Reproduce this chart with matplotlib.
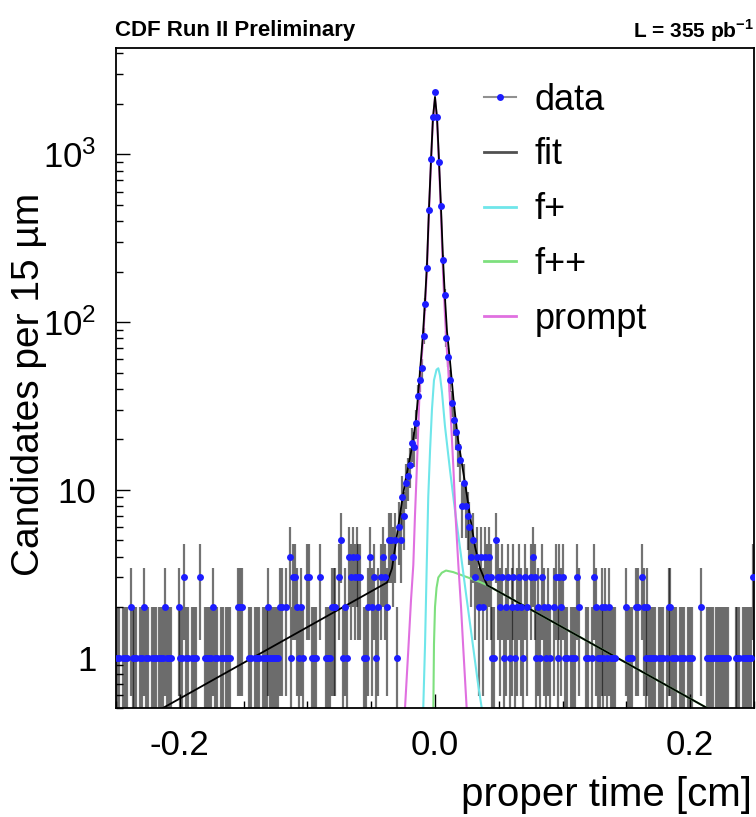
import numpy as np
import matplotlib.pyplot as plt
from matplotlib.lines import Line2D
from matplotlib.ticker import FixedLocator, FixedFormatter, NullFormatter

plt.rcParams['font.family'] = ['Liberation Sans', 'DejaVu Sans']
plt.rcParams['mathtext.fontset'] = 'custom'
plt.rcParams['mathtext.rm'] = 'Liberation Sans'
plt.rcParams['mathtext.bf'] = 'Liberation Sans:bold'

# histogram: 15 um bins, bin k centred at k*0.0015 cm, k = -166..166
bin_width = 0.0015
counts = [
    1, 1, 0, 1, 1, 1, 0, 2, 1, 1,
    1, 0, 1, 1, 2, 1, 1, 0, 1, 1,
    1, 0, 1, 1, 1, 2, 1, 1, 1, 0,
    0, 0, 2, 1, 1, 3, 1, 1, 0, 1,
    1, 1, 0, 3, 0, 0, 1, 1, 1, 1,
    2, 1, 1, 0, 1, 1, 0, 1, 1, 1,
    0, 0, 0, 2, 2, 2, 0, 0, 0, 1,
    1, 0, 1, 1, 1, 0, 1, 1, 1, 2,
    1, 1,
    1, 1, 1, 2, 2, 0, 2, 0, 4, 1,
    3, 3, 2, 1, 2, 1, 0, 3, 3, 0,
    1, 1, 1, 0, 3, 0, 0, 1, 1, 1,
    2, 2, 2, 0, 3, 5, 1, 2, 1, 4,
    3, 4, 3, 4, 3, 3, 0, 1, 1, 2,
    4, 2, 3, 1, 2, 0, 3, 4, 3, 2,
    5, 5, 4, 5,
    1, 6, 5, 9, 7, 11, 12, 14, 19, 18,
    25, 36, 45, 53, 83, 128, 210, 468, 933, 1668,
    2355,
    1668, 900, 494, 235, 145, 80, 62, 45, 33, 26,
    22, 18, 15, 8, 11, 8, 7, 6, 4, 5,
    3, 4,
    2, 4, 2, 4, 3, 4, 3, 1, 1, 5,
    3, 2, 3, 1, 2, 3, 1, 2, 3, 1,
    2, 3, 2, 1, 3, 2, 0, 3, 4, 3,
    1, 2, 1, 3, 2, 1, 2, 1, 0, 2,
    3, 1, 3, 2, 3, 1, 1, 0, 1, 1,
    1, 3, 2, 0, 0, 0, 1, 1, 0, 1,
    3, 2, 1, 1, 2, 1, 2, 1, 2, 1,
    1, 1, 0, 0, 0, 0, 0, 2, 1, 1,
    1, 0, 2, 2, 0, 3, 2, 1, 2, 1,
    1, 1, 1, 0, 1, 1, 1, 0, 1, 2,
    2, 1, 1, 1, 0, 1, 1, 1, 0, 1,
    1, 1, 0, 0, 0, 0, 2, 0, 0, 1,
    1, 1, 1, 0, 1, 1, 1, 1, 1, 1,
    1, 0, 0, 0, 1, 1, 1, 0, 1, 1,
    1, 1, 1, 3,
]

# fit components (x in cm)
fit_x = [-0.2132, -0.0376, -0.0337, -0.0290, -0.0259, -0.0235, -0.0180, -0.0149, -0.0133, -0.0118,
         -0.0094, -0.0078, -0.0063, -0.0047, -0.0031, -0.0016, 0.0, 0.0016, 0.0031, 0.0047,
         0.0063, 0.0078, 0.0094, 0.0118, 0.0149, 0.0180, 0.0235, 0.0274, 0.0313, 0.0353,
         0.0408, 0.2132]
fit_y = [0.5, 2.8, 3.4, 5.9, 8.5, 11, 18, 26, 36, 50,
         85, 135, 220, 480, 930, 1650, 2200, 1650, 930, 480,
         235, 140, 88, 58, 32, 20, 11, 7, 4.6, 3.4,
         2.7, 0.5]

fplus_x = [-0.0092, -0.0078, -0.0065, -0.0053, -0.0039, -0.0024, -0.0008, 0.0012, 0.0026, 0.0039,
           0.0055, 0.0078, 0.0118, 0.0157, 0.0196, 0.0243, 0.0290, 0.0337, 0.0366]
fplus_y = [0.5, 1.2, 3.5, 9, 17, 30, 45, 52, 53, 48,
           38, 24, 13, 7.5, 4.5, 2.4, 1.3, 0.7, 0.5]

fpp_x = [-0.0013, -0.0008, 0.0, 0.0012, 0.0026, 0.0053, 0.0086, 0.0143, 0.0248, 0.0353, 0.0408, 0.2132]
fpp_y = [0.5, 1.2, 2.0, 2.6, 3.0, 3.2, 3.3, 3.23, 3.02, 2.82, 2.7, 0.5]

prompt_x = [-0.0235, -0.0209, -0.0188, -0.0170, -0.0157, -0.0143, -0.0129, -0.0118, -0.0094, -0.0078,
            -0.0063, -0.0047, -0.0031, -0.0016, 0.0, 0.0016, 0.0031, 0.0047, 0.0063, 0.0078,
            0.0094, 0.0104, 0.0121, 0.0143, 0.0161, 0.0183, 0.0204, 0.0222, 0.0248]
prompt_y = [0.5, 1.12, 2.2, 3.56, 7, 13, 26, 45, 78, 125,
            205, 460, 910, 1620, 2150, 1600, 880, 435, 195, 110,
            66, 52, 30, 14, 7, 3.56, 2.0, 1.12, 0.5]

ytick_vals = [1, 10, 100, 1000]
ytick_labels = ['1', '10', r'$\mathregular{10^{2}}$', r'$\mathregular{10^{3}}$']
xtick_vals = [-0.2, 0.0, 0.2]
xtick_labels = ['-0.2', '0.0', '0.2']

fig = plt.figure(figsize=(7.56, 8.17), dpi=100)
ax = fig.add_axes([0.1534, 0.1334, 0.8440, 0.8078])

n = np.array(counts, dtype=float)
centers = (np.arange(len(counts)) - 166) * bin_width
m = n > 0
err = np.sqrt(n[m])
ax.vlines(centers[m], np.maximum(n[m] - err, 0.3), n[m] + err,
          color='black', lw=1.6, alpha=0.55, zorder=1)

ax.plot(fpp_x, fpp_y, color='#7ee07e', lw=1.5, zorder=2)
ax.plot(fplus_x, fplus_y, color='#6fe6ea', lw=1.5, zorder=2)
ax.plot(prompt_x, prompt_y, color='#e070e0', lw=1.5, zorder=2)
ax.plot(fit_x, fit_y, color='black', lw=1.3, zorder=3)
ax.plot(centers[m], n[m], 'o', color='#1c1cff', ms=5, mec='none', zorder=4)

ax.set_yscale('log')
ax.set_xlim(-0.25, 0.25)
ax.set_ylim(0.5, 4300)

ax.yaxis.set_major_locator(FixedLocator(ytick_vals))
ax.yaxis.set_major_formatter(FixedFormatter(ytick_labels))
ax.yaxis.set_minor_formatter(NullFormatter())
ax.xaxis.set_major_locator(FixedLocator(xtick_vals))
ax.xaxis.set_major_formatter(FixedFormatter(xtick_labels))
ax.set_xticks(np.arange(-0.25, 0.26, 0.05), minor=True)
ax.tick_params(which='both', direction='in', top=False, right=False, width=1)
ax.tick_params(which='major', length=10)
ax.tick_params(which='minor', length=5)
ax.tick_params(axis='x', labelsize=25, pad=15)
ax.tick_params(axis='y', labelsize=25, pad=14)
for s in ax.spines.values():
    s.set_linewidth(1.3)

fig.text(0.038, 0.53, 'Candidates per 15 \u00b5m', rotation=90, ha='center', va='center', fontsize=28)
fig.text(0.995, 0.027, 'proper time [cm]', ha='right', va='center', fontsize=29)
fig.text(0.152, 0.963, 'CDF Run II Preliminary', ha='left', va='center', fontsize=16, fontweight='bold')
fig.text(0.998, 0.963, r'L = 355 pb$^{\mathbf{-1}}$', ha='right', va='center', fontsize=15, fontweight='bold')

handles = [
    Line2D([], [], color='#909090', lw=1.5, marker='o', ms=5, mfc='#1c1cff', mec='none'),
    Line2D([], [], color='#505050', lw=2),
    Line2D([], [], color='#6fe6ea', lw=2),
    Line2D([], [], color='#7ee07e', lw=2),
    Line2D([], [], color='#e070e0', lw=2),
]
fig.legend(handles, ['data', 'fit', 'f+', 'f++', 'prompt'], loc='upper left',
           bbox_to_anchor=(0.640, 0.899), frameon=False, fontsize=26,
           handlelength=0.9, handletextpad=0.5, labelspacing=0.55,
           borderpad=0, borderaxespad=0)

fig.savefig('out.png', dpi=100)
